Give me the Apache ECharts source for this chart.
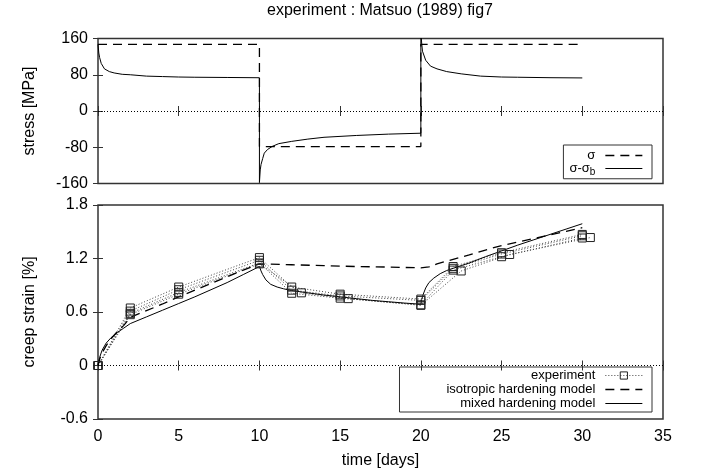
<!DOCTYPE html>
<html>
<head>
<meta charset="utf-8">
<script src="https://cdn.jsdelivr.net/npm/echarts@6/dist/echarts.min.js"></script>
<style>
  html, body { margin: 0; padding: 0; background: #fff; }
  #chart { width: 702px; height: 471px; }
</style>
</head>
<body>
<div id="chart"></div>
<script>
// Stress history (upper panel)
const stressTime  = [0, 10, 10, 20, 20, 30];
const stressSigma = [147, 147, -78.5, -78.5, 147, 147];

const effTime = [0, 0.05, 0.1, 0.2, 0.4, 0.7, 1, 1.5, 2, 3, 4, 5, 6, 8, 10,
  10, 10.05, 10.1, 10.2, 10.3, 10.5, 10.8, 11.2, 12, 13, 14, 16, 18, 20,
  20, 20.05, 20.1, 20.3, 20.6, 21, 21.6, 22.5, 23.7, 25, 26, 28, 30];
const effStress = [147, 128, 118, 105, 93, 87, 84, 81, 80, 77, 76, 75, 74.5, 74, 73.4,
  -158, -130, -118, -105, -93, -85, -78, -72, -67, -62, -58, -54, -51, -49,
  176, 150, 132, 112, 99, 93, 87, 82, 77, 75, 74.5, 73.5, 73];

// Creep strain (lower panel)
const expTimeA = [0, 2, 5, 10, 12, 15, 20, 22, 25, 30];
const expTimeB = [0, 2, 5, 10, 12.6, 15.5, 20, 22.5, 25.5, 30.5];
const expStrain1 = [0, 0.645, 0.88, 1.21, 0.88, 0.80, 0.745, 1.11, 1.265, 1.47];
const expStrain2 = [0, 0.61, 0.85, 1.18, 0.845, 0.78, 0.73, 1.09, 1.25, 1.455];
const expStrain3 = [0, 0.585, 0.82, 1.15, 0.81, 0.755, 0.68, 1.07, 1.22, 1.43];
const expStrain4 = [0, 0.57, 0.80, 1.14, 0.815, 0.75, 0.675, 1.06, 1.245, 1.435];

const isoTime = [0, 0.1, 0.25, 0.5, 0.8, 1.2, 1.6, 2, 3, 4, 5, 6, 7, 8, 9, 10,
  10.5, 12, 14, 16, 18, 20,
  20.5, 21, 22, 23, 24, 25, 26, 27, 28, 29, 30];
const isoStrain = [0, 0.07, 0.14, 0.22, 0.3, 0.38, 0.45, 0.54, 0.615, 0.69, 0.77, 0.845, 0.92, 0.995, 1.07, 1.14,
  1.137, 1.13, 1.12, 1.11, 1.104, 1.095,
  1.105, 1.14, 1.19, 1.24, 1.295, 1.345, 1.385, 1.425, 1.465, 1.505, 1.545];

const mixedTime = [0, 0.1, 0.25, 0.5, 0.8, 1.2, 1.6, 2, 3, 4, 5, 6, 7, 8, 9, 10,
  10.1, 10.2, 10.4, 10.7, 11.1, 11.5, 12, 13, 14, 15, 16, 17, 18, 19, 20,
  20.05, 20.15, 20.3, 20.5, 20.8, 21.2, 21.6, 22, 22.5, 23, 24, 25, 26, 27, 28, 29, 30];
const mixedStrain = [0, 0.09, 0.17, 0.25, 0.31, 0.37, 0.42, 0.47, 0.545, 0.62, 0.695, 0.77, 0.85, 0.93, 1.02, 1.11,
  1.06, 1.02, 0.96, 0.91, 0.88, 0.86, 0.84, 0.815, 0.79, 0.77, 0.75, 0.73, 0.715, 0.70, 0.687,
  0.74, 0.80, 0.87, 0.93, 0.98, 1.03, 1.065, 1.09, 1.12, 1.15, 1.22, 1.285, 1.35, 1.41, 1.47, 1.53, 1.59];

const FONT = '"Liberation Sans", Arial, Helvetica, sans-serif';
const INK = '#000';
const FRAME = '#333';
const DASH = [9, 6];
const DOT = [1, 2];

const zip = (xs, ys) => xs.map((x, i) => [x, ys[i]]);

function xAx(grid, pos, labels) {
  return {
    type: 'value', gridIndex: grid, position: pos, min: 0, max: 35, interval: 5,
    axisLine: { show: false },
    axisTick: { show: true, inside: true, length: 5, lineStyle: { color: FRAME, width: 1 } },
    axisLabel: { show: labels, color: INK, fontFamily: FONT, fontSize: 16, margin: 10 },
    splitLine: { show: false }
  };
}
function yAx(grid, pos, min, max, step, labels, name) {
  return {
    type: 'value', gridIndex: grid, position: pos, min: min, max: max, interval: step,
    axisLine: { show: false },
    axisTick: { show: true, inside: true, length: 5, lineStyle: { color: FRAME, width: 1 } },
    axisLabel: { show: labels, color: INK, fontFamily: FONT, fontSize: 16, margin: 10 },
    splitLine: { show: false },
    name: name || '', nameLocation: 'middle', nameGap: 60,
    nameTextStyle: { color: INK, fontFamily: FONT, fontSize: 16 }
  };
}

const zeroLine = {
  silent: true, symbol: ['none', 'none'], label: { show: false },
  lineStyle: { color: INK, type: DOT, width: 1 },
  data: [{ yAxis: 0 }]
};

function expSeries(times, vals) {
  return {
    name: 'experiment', type: 'line', xAxisIndex: 2, yAxisIndex: 2,
    data: zip(times, vals),
    symbol: 'rect', symbolSize: 8,
    itemStyle: { color: 'rgba(0,0,0,0)', borderColor: '#222', borderWidth: 1 },
    lineStyle: { color: '#444', type: DOT, width: 1 },
    z: 3
  };
}

const hiddenDot = { color: 'rgba(0,0,0,0)', borderWidth: 0 };

const chart = echarts.init(document.getElementById('chart'), null, { renderer: 'canvas' });
chart.setOption({
  animation: false,
  backgroundColor: '#fff',
  textStyle: { fontFamily: FONT },
  title: {
    text: 'experiment : Matsuo (1989) fig7',
    left: 380, top: 3, textAlign: 'center', padding: 0,
    textStyle: { color: INK, fontFamily: FONT, fontSize: 16, fontWeight: 'normal' }
  },
  grid: [
    { left: 98, top: 38.5, width: 565, height: 145, show: true, borderColor: FRAME, borderWidth: 1.5, backgroundColor: 'transparent' },
    { left: 98, top: 205, width: 565, height: 214, show: true, borderColor: FRAME, borderWidth: 1.5, backgroundColor: 'transparent' }
  ],
  xAxis: [
    xAx(0, 'bottom', false),
    xAx(0, 'top', false),
    Object.assign(xAx(1, 'bottom', true), {
      name: 'time [days]', nameLocation: 'middle', nameGap: 34,
      nameTextStyle: { color: INK, fontFamily: FONT, fontSize: 16 }
    }),
    xAx(1, 'top', false)
  ],
  yAxis: [
    yAx(0, 'left', -160, 160, 80, true, 'stress [MPa]'),
    yAx(0, 'right', -160, 160, 80, false),
    yAx(1, 'left', -0.6, 1.8, 0.6, true, 'creep strain [%]'),
    yAx(1, 'right', -0.6, 1.8, 0.6, false)
  ],
  legend: [
    {
      orient: 'vertical', align: 'right', right: 50, top: 145,
      itemWidth: 37, itemHeight: 9, itemGap: 0,
      padding: [4, 9, 2, 6],
      borderColor: FRAME, borderWidth: 1,
      selectedMode: false,
      textStyle: {
        color: INK, fontFamily: FONT, fontSize: 13, lineHeight: 11.5, padding: [0, 5, 0, 0],
        rich: {
          t: { fontFamily: FONT, fontSize: 13, color: INK, lineHeight: 11.5, padding: [0, 0, 0, 0] },
          s: { fontFamily: FONT, fontSize: 10, color: INK, lineHeight: 11.5, verticalAlign: 'top', padding: [4, 0, 0, 0] }
        }
      },
      formatter: n => n === 'σ-σb' ? '{t|σ-σ}{s|b}' : n,
      data: [
        { name: 'σ', lineStyle: { color: INK, type: DASH, width: 1.3 }, itemStyle: hiddenDot },
        { name: 'σ-σb', lineStyle: { color: INK, type: 'solid', width: 1 }, itemStyle: hiddenDot }
      ]
    },
    {
      orient: 'vertical', align: 'right', right: 50, top: 367,
      itemWidth: 37, itemHeight: 9, itemGap: 1,
      padding: [2, 9, 2, 47],
      borderColor: FRAME, borderWidth: 1,
      selectedMode: false,
      textStyle: { color: INK, fontFamily: FONT, fontSize: 13, lineHeight: 13, padding: [0, 5, 0, 0] },
      data: [
        { name: 'experiment', lineStyle: { color: '#444', type: DOT, width: 1 }, itemStyle: { color: 'rgba(0,0,0,0)', borderColor: '#222', borderWidth: 1 } },
        { name: 'isotropic hardening model', lineStyle: { color: INK, type: DASH, width: 1.3 }, itemStyle: hiddenDot },
        { name: 'mixed hardening model', lineStyle: { color: INK, type: 'solid', width: 1 }, itemStyle: hiddenDot }
      ]
    }
  ],
  series: [
    {
      name: 'σ', type: 'line', xAxisIndex: 0, yAxisIndex: 0,
      data: zip(stressTime, stressSigma), symbol: 'none',
      lineStyle: { color: INK, type: DASH, width: 1.3 },
      itemStyle: { color: INK },
      markLine: zeroLine
    },
    {
      name: 'σ-σb', type: 'line', xAxisIndex: 0, yAxisIndex: 0,
      data: zip(effTime, effStress), symbol: 'none',
      lineStyle: { color: INK, width: 1 },
      itemStyle: { color: INK }
    },
    expSeries(expTimeA, expStrain1),
    expSeries(expTimeA, expStrain2),
    expSeries(expTimeA, expStrain3),
    expSeries(expTimeB, expStrain4),
    {
      name: 'isotropic hardening model', type: 'line', xAxisIndex: 2, yAxisIndex: 2,
      data: zip(isoTime, isoStrain), symbol: 'none',
      lineStyle: { color: INK, type: DASH, width: 1.3 },
      itemStyle: { color: INK },
      markLine: zeroLine
    },
    {
      name: 'mixed hardening model', type: 'line', xAxisIndex: 2, yAxisIndex: 2,
      data: zip(mixedTime, mixedStrain), symbol: 'none',
      lineStyle: { color: INK, width: 1 },
      itemStyle: { color: INK }
    }
  ]
});
</script>
</body>
</html>
